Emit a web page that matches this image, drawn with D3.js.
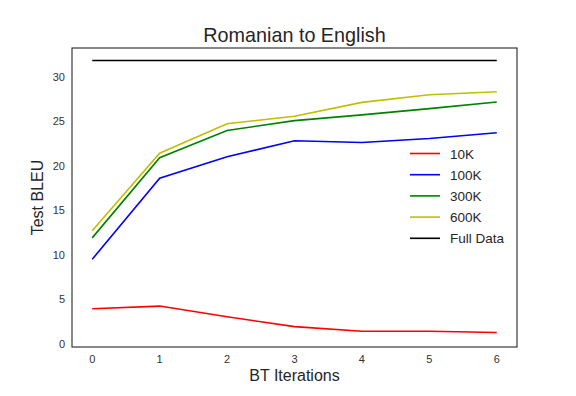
<!DOCTYPE html>
<html>
<head>
<meta charset="utf-8">
<script src="https://cdn.jsdelivr.net/npm/d3@7"></script>
<style>
  body { margin: 0; background: #fff; }
  svg { font-family: "Liberation Sans", Arial, sans-serif; }
</style>
</head>
<body>
<svg id="main" width="576" height="396"></svg>
<script>
// data
var iterations = [0, 1, 2, 3, 4, 5, 6];
var bleu10k  = [3.95, 4.25, 3.05, 1.95, 1.43, 1.43, 1.28];
var bleu100k = [9.5, 18.6, 21.0, 22.8, 22.6, 23.05, 23.7];
var bleu300k = [11.9, 20.9, 23.95, 25.05, 25.7, 26.4, 27.15];
var bleu600k = [12.7, 21.4, 24.7, 25.55, 27.1, 27.95, 28.3];
var fullData = [31.8, 31.8, 31.8, 31.8, 31.8, 31.8, 31.8];
var yTicks = [0, 5, 10, 15, 20, 25, 30];

var seriesList = [
  {name: "10K", values: bleu10k, color: "#ff0000"},
  {name: "100K", values: bleu100k, color: "#0000ff"},
  {name: "300K", values: bleu300k, color: "#008000"},
  {name: "600K", values: bleu600k, color: "#bfbf00"},
  {name: "Full Data", values: fullData, color: "#000000"}
];

var svg = d3.select("svg#main");
var plotL = 72, plotR = 517, plotT = 48, plotB = 347;

var x = d3.scaleLinear().domain([-0.3, 6.3]).range([plotL, plotR]);
var y = d3.scaleLinear().domain([-0.34, 33.2]).range([plotB, plotT]);

// x tick labels
svg.selectAll("text.xt").data(iterations).enter().append("text")
  .attr("class", "xt")
  .attr("x", function(d) { return x(d); })
  .attr("y", plotB + 16)
  .attr("text-anchor", "middle")
  .attr("font-size", 11)
  .attr("fill", "#333")
  .text(function(d) { return d; });

// y tick labels
svg.selectAll("text.yt").data(yTicks).enter().append("text")
  .attr("class", "yt")
  .attr("x", plotL - 7)
  .attr("y", function(d) { return y(d) + 4; })
  .attr("text-anchor", "end")
  .attr("font-size", 11)
  .attr("fill", "#333")
  .text(function(d) { return d; });

var line = d3.line()
  .x(function(d, i) { return x(iterations[i]); })
  .y(function(d) { return y(d); });

svg.selectAll("path.series").data(seriesList).enter().append("path")
  .attr("class", "series")
  .attr("d", function(d) { return line(d.values); })
  .attr("fill", "none")
  .attr("stroke", function(d) { return d.color; })
  .attr("stroke-width", 1.6);

// frame
svg.append("rect")
  .attr("x", plotL).attr("y", plotT)
  .attr("width", plotR - plotL).attr("height", plotB - plotT)
  .attr("fill", "none")
  .attr("stroke", "#262626")
  .attr("stroke-width", 1.1);

// legend
var legend = svg.selectAll("g.legend").data(seriesList).enter().append("g")
  .attr("class", "legend")
  .attr("transform", function(d, i) { return "translate(410," + (153.5 + i * 21.2) + ")"; });
legend.append("line")
  .attr("x1", 0).attr("x2", 30)
  .attr("stroke", function(d) { return d.color; })
  .attr("stroke-width", 1.6);
legend.append("text")
  .attr("x", 40).attr("y", 5)
  .attr("font-size", 13.5)
  .attr("fill", "#262626")
  .text(function(d) { return d.name; });

// title and axis labels
svg.append("text")
  .attr("x", (plotL + plotR) / 2).attr("y", 42)
  .attr("text-anchor", "middle")
  .attr("font-size", 19.8)
  .attr("fill", "#262626")
  .text("Romanian to English");

svg.append("text")
  .attr("x", (plotL + plotR) / 2).attr("y", 381)
  .attr("text-anchor", "middle")
  .attr("font-size", 16)
  .attr("fill", "#262626")
  .text("BT Iterations");

svg.append("text")
  .attr("transform", "translate(43," + ((plotT + plotB) / 2) + ") rotate(-90)")
  .attr("text-anchor", "middle")
  .attr("font-size", 16)
  .attr("fill", "#262626")
  .text("Test BLEU");
</script>
</body>
</html>
